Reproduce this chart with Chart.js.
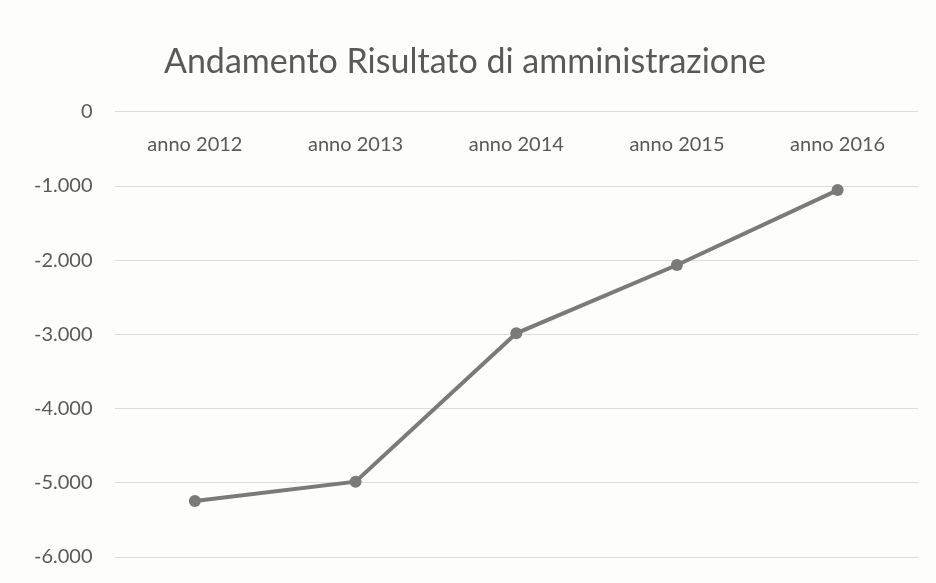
<!DOCTYPE html>
<html>
<head>
<meta charset="utf-8">
<script src="https://cdn.jsdelivr.net/npm/chart.js@4"></script>
<style>
    html, body { margin: 0; padding: 0; background: #fdfdfc; }
    #chart { display: block; }
</style>
</head>
<body>
<canvas id="chart" width="936" height="583"></canvas>
<script>
const categories = ["anno 2012", "anno 2013", "anno 2014", "anno 2015", "anno 2016"];
const risultato = [-5245, -4985, -2985, -2065, -1055];
const yTicks = [0, -1000, -2000, -3000, -4000, -5000, -6000];

const textGray = "#595959";
const lineGray = "#7a7a7a";

function formatNumber(value) {
    const sign = value < 0 ? "-" : "";
    const abs = Math.abs(value);
    return sign + String(abs).replace(/\B(?=(\d{3})+(?!\d))/g, ".");
}

const chartCanvas = document.getElementById("chart");

new Chart(chartCanvas, {
    type: "line",
    data: {
        labels: categories,
        datasets: [
            {
                label: "Risultato di amministrazione",
                data: risultato,
                borderColor: lineGray,
                backgroundColor: lineGray,
                borderWidth: 4,
                pointRadius: 6,
                pointBorderWidth: 0,
                pointBackgroundColor: lineGray,
                tension: 0,
            },
        ],
    },
    options: {
        responsive: false,
        animation: false,
        layout: {
            padding: { left: 12, right: 18, top: 0, bottom: 26 },
        },
        plugins: {
            legend: { display: false },
            tooltip: { enabled: false },
            title: {
                display: true,
                text: "Andamento Risultato di amministrazione",
                color: textGray,
                font: { family: "Lato", size: 34, weight: "normal" },
                padding: { top: 42, bottom: 29 },
            },
        },
        scales: {
            x: {
                position: { y: 0 },
                offset: true,
                grid: { display: false, drawTicks: false },
                border: { display: false },
                ticks: {
                    color: textGray,
                    padding: 21,
                    font: { family: "Lato", size: 20 },
                },
            },
            y: {
                min: Math.min(...yTicks),
                max: Math.max(...yTicks),
                afterBuildTicks: (scale) => {
                    scale.ticks = yTicks.map((v) => ({ value: v }));
                },
                afterFit: (scale) => {
                    scale.paddingTop = 0;
                    scale.paddingBottom = 0;
                },
                grid: { color: "#dcdcdc", lineWidth: 1, drawTicks: false },
                border: { display: false },
                ticks: {
                    color: textGray,
                    padding: 22,
                    font: { family: "Lato", size: 20 },
                    callback: (value) => formatNumber(value),
                },
            },
        },
    },
});
</script>
</body>
</html>
